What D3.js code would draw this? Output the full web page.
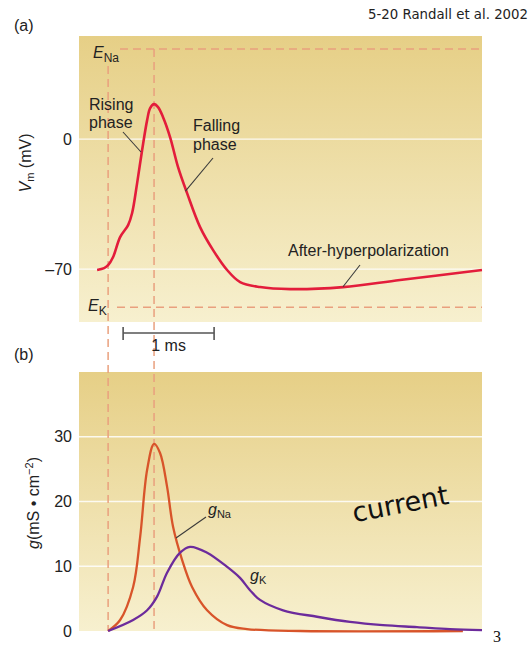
<!DOCTYPE html>
<html><head><meta charset="utf-8">
<script src="https://cdn.jsdelivr.net/npm/d3@7"></script>
<style>body{margin:0;background:#fff}svg{display:block}</style>
</head><body>
<svg id="c" width="531" height="646"></svg>
<script>
// ---- data ----
// time in ms relative to stimulus onset
const vmTime = [-0.121,-0.044,0,0.055,0.132,0.22,0.264,0.319,0.374,0.429,0.462,0.505,0.549,0.604,0.681,0.769,0.868,1.011,1.154,1.308,1.451,1.67,2.0,2.582,3.209,4.11];
const vmValues = [-70.5,-69.5,-67.9,-63.5,-52.8,-46.3,-39.8,-23.7,-5.9,10.2,16.7,18.8,17.2,11.8,1.1,-15.1,-29.1,-47.4,-59.8,-70.5,-77.0,-79.7,-80.8,-79.7,-75.9,-70.5];
const gNaTime = [0,0.132,0.275,0.352,0.429,0.505,0.571,0.648,0.714,0.813,0.923,1.088,1.308,1.527,2.11,3.9];
const gNaValues = [0,1.7,6.8,14.5,24.9,28.9,27.5,22.3,16.1,11.0,6.8,3.2,0.9,0.3,0,0];
const gKTime = [0,0.275,0.429,0.538,0.648,0.791,0.901,1.088,1.308,1.45,1.56,1.67,1.923,2.297,2.659,3.022,3.396,3.758,4.11];
const gKValues = [0,1.7,3.2,5.3,9.0,12.1,13.0,12.1,9.9,8.2,6.3,4.8,3.2,2.2,1.4,0.9,0.6,0.3,0.15];
const vmTicks = [0,-70];
const gTicks = [0,10,20,30];
const E_Na = 48.5, E_K = -90.5;
const peakTime = 0.505;
const scaleBar = [0.165,1.165];

// ---- layout ----
const svg = d3.select("#c");
const font = "'Liberation Sans', Arial, sans-serif";
const X0 = 79, X1 = 482;
const x = d3.scaleLinear().domain([-0.32,4.11]).range([X0,X1]);
const ya = d3.scaleLinear().domain([-98.5,55.5]).range([322,36]);
const yb = d3.scaleLinear().domain([0,40]).range([631,372]);

const defs = svg.append("defs");
function grad(id){
  const g = defs.append("linearGradient").attr("id",id).attr("x1",0).attr("y1",0).attr("x2",0).attr("y2",1);
  g.append("stop").attr("offset","0%").attr("stop-color","#e6cf86");
  g.append("stop").attr("offset","100%").attr("stop-color","#f7f0cf");
}
grad("ga"); grad("gb");

svg.append("rect").attr("x",X0).attr("y",ya.range()[1]).attr("width",X1-X0).attr("height",ya.range()[0]-ya.range()[1]).attr("fill","url(#ga)");
svg.append("rect").attr("x",X0).attr("y",yb.range()[1]).attr("width",X1-X0).attr("height",yb.range()[0]-yb.range()[1]).attr("fill","url(#gb)");

// gridlines
svg.selectAll(".gla").data(vmTicks).join("line").attr("x1",X0).attr("x2",X1)
  .attr("y1",d=>ya(d)).attr("y2",d=>ya(d)).attr("stroke","#fff").attr("stroke-width",1.3).attr("opacity",0.85);
svg.selectAll(".glb").data(gTicks.filter(d=>d>0)).join("line").attr("x1",X0).attr("x2",X1)
  .attr("y1",d=>yb(d)).attr("y2",d=>yb(d)).attr("stroke","#fff").attr("stroke-width",1.3).attr("opacity",0.85);

// tick labels
svg.selectAll(".tla").data(vmTicks).join("text").attr("x",72).attr("y",d=>ya(d)).attr("dy","0.35em")
  .attr("text-anchor","end").attr("font-family",font).attr("font-size",16).attr("fill","#222")
  .text(d=>d<0?"\u2013"+(-d):d);
svg.selectAll(".tlb").data(gTicks).join("text").attr("x",72).attr("y",d=>yb(d)).attr("dy","0.35em")
  .attr("text-anchor","end").attr("font-family",font).attr("font-size",16).attr("fill","#222")
  .text(d=>d);

// dashed reference lines
const dashC = "#e9a07e";
const dash = "8,5";
svg.append("line").attr("x1",120).attr("x2",X1).attr("y1",ya(E_Na)).attr("y2",ya(E_Na))
  .attr("stroke",dashC).attr("stroke-width",1.5).attr("stroke-dasharray",dash);
svg.append("line").attr("x1",117).attr("x2",X1).attr("y1",ya(E_K)).attr("y2",ya(E_K))
  .attr("stroke",dashC).attr("stroke-width",1.5).attr("stroke-dasharray",dash);
svg.append("line").attr("x1",x(0)).attr("x2",x(0)).attr("y1",66).attr("y2",yb(0))
  .attr("stroke",dashC).attr("stroke-width",1.5).attr("stroke-dasharray",dash);
svg.append("line").attr("x1",x(peakTime)).attr("x2",x(peakTime)).attr("y1",ya(E_Na)).attr("y2",yb(0))
  .attr("stroke",dashC).attr("stroke-width",1.5).attr("stroke-dasharray",dash);

// curves
const lineA = d3.line().x(d=>x(d[0])).y(d=>ya(d[1])).curve(d3.curveCatmullRom.alpha(0.5));
const lineB = d3.line().x(d=>x(d[0])).y(d=>yb(d[1])).curve(d3.curveCatmullRom.alpha(0.5));
svg.append("path").attr("d",lineA(d3.zip(vmTime,vmValues))).attr("fill","none").attr("stroke","#e31d3b").attr("stroke-width",2.6);
svg.append("path").attr("d",lineB(d3.zip(gNaTime,gNaValues))).attr("fill","none").attr("stroke","#d8542a").attr("stroke-width",2.3);
svg.append("path").attr("d",lineB(d3.zip(gKTime,gKValues))).attr("fill","none").attr("stroke","#6c2b9c").attr("stroke-width",2.3);

// labels
function txt(xp,yp,s,size){
  const t = svg.append("text").attr("x",xp).attr("y",yp).attr("font-family",font).attr("font-size",size||16).attr("fill","#222");
  if(s!==null) t.text(s);
  return t;
}
txt(14,31,"(a)");
txt(14,360,"(b)");
svg.append("text").attr("x",528).attr("y",19).attr("text-anchor","end")
  .attr("font-family","'DejaVu Sans', Verdana, sans-serif").attr("font-size",13.3).attr("fill","#222").text("5-20 Randall et al. 2002");

// E_Na, E_K
let t = txt(93,58,null);
t.append("tspan").attr("font-style","italic").text("E");
t.append("tspan").attr("font-size",12).attr("dy",4).text("Na");
t = txt(88,311,null);
t.append("tspan").attr("font-style","italic").text("E");
t.append("tspan").attr("font-size",12).attr("dy",4).text("K");

txt(89,110,"Rising"); txt(89,128,"phase");
txt(193,131,"Falling"); txt(193,150,"phase");
txt(288,256,"After-hyperpolarization");
const lead = "#3a3a3a";
svg.append("line").attr("x1",123).attr("y1",132).attr("x2",141).attr("y2",152).attr("stroke",lead).attr("stroke-width",1.1);
svg.append("line").attr("x1",213).attr("y1",158).attr("x2",x(0.85)).attr("y2",ya(-28)).attr("stroke",lead).attr("stroke-width",1.1);
svg.append("line").attr("x1",360).attr("y1",265).attr("x2",343).attr("y2",ya(-79.5)).attr("stroke",lead).attr("stroke-width",1.1);

// axis titles
t = svg.append("text").attr("transform","translate(31,163) rotate(-90)").attr("text-anchor","middle")
  .attr("font-family",font).attr("font-size",16).attr("fill","#222");
t.append("tspan").attr("font-style","italic").text("V");
t.append("tspan").attr("font-size",11).attr("dy",3).text("m");
t.append("tspan").attr("dy",-3).text(" (mV)");
t = svg.append("text").attr("transform","translate(39,503) rotate(-90)").attr("text-anchor","middle")
  .attr("font-family",font).attr("font-size",16).attr("fill","#222");
t.append("tspan").attr("font-style","italic").text("g");
t.append("tspan").text("(mS \u2022 cm");
t.append("tspan").attr("font-size",11).attr("dy",-6).text("\u22122");
t.append("tspan").attr("dy",6).text(")");

// gNa, gK labels
t = txt(208,515,null);
t.append("tspan").attr("font-style","italic").text("g");
t.append("tspan").attr("font-size",11).attr("dy",3).text("Na");
svg.append("line").attr("x1",206).attr("y1",517).attr("x2",176).attr("y2",538).attr("stroke",lead).attr("stroke-width",1.1);
t = txt(250,581,null);
t.append("tspan").attr("font-style","italic").text("g");
t.append("tspan").attr("font-size",11).attr("dy",3).text("K");

// scale bar
const sb = svg.append("g").attr("stroke","#555").attr("stroke-width",1.6);
sb.append("line").attr("x1",x(scaleBar[0])).attr("x2",x(scaleBar[1])).attr("y1",333).attr("y2",333);
sb.append("line").attr("x1",x(scaleBar[0])).attr("x2",x(scaleBar[0])).attr("y1",327).attr("y2",340);
sb.append("line").attr("x1",x(scaleBar[1])).attr("x2",x(scaleBar[1])).attr("y1",327).attr("y2",340);
txt((x(scaleBar[0])+x(scaleBar[1]))/2,351,"1 ms").attr("text-anchor","middle");

// annotation
svg.append("text").attr("transform","translate(402,513) rotate(-11)").attr("text-anchor","middle")
  .attr("font-family","'DejaVu Sans', Verdana, sans-serif").attr("font-size",27).attr("fill","#111").text("current");
svg.append("text").attr("x",493).attr("y",642).attr("font-family","'Liberation Serif', serif").attr("font-size",16).attr("fill","#111").text("3");
</script>
</body></html>
